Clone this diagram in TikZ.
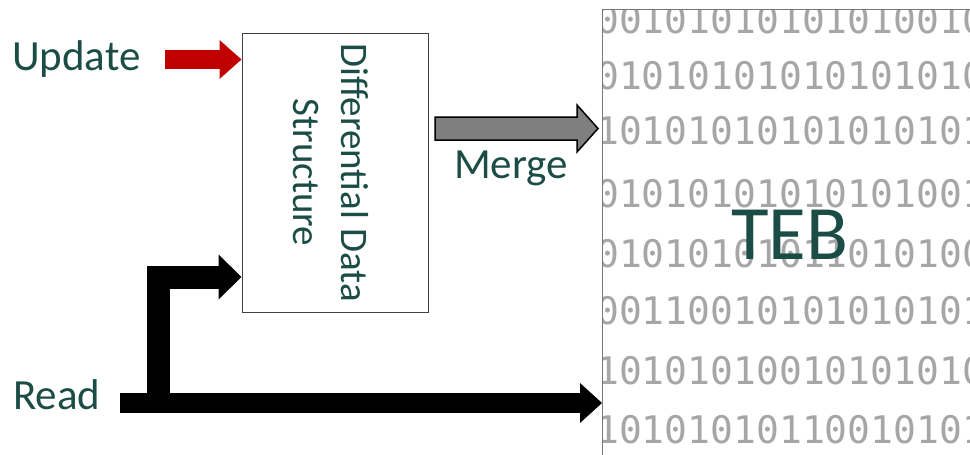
\documentclass[tikz,border=0pt]{standalone}
\usepackage{fontspec}
\setmainfont{Carlito}
\newfontfamily\bitsfont{DejaVu Sans Mono}
\usetikzlibrary{arrows.meta}

\definecolor{labelteal}{RGB}{28,76,70}
\definecolor{updred}{RGB}{192,0,0}
\definecolor{mergegray}{RGB}{127,127,127}
\definecolor{bitgray}{RGB}{166,166,166}
\definecolor{panelgray}{RGB}{120,120,120}
\definecolor{boxgray}{RGB}{64,64,64}

\begin{document}
\begin{tikzpicture}[x=1pt,y=-1pt,
    label/.style={inner sep=0pt, anchor=base west, text=labelteal, font=\fontsize{43}{50}\selectfont},
    bits/.style={inner sep=0pt, anchor=west, text=bitgray, font=\bitsfont\fontsize{38}{44}\selectfont},
    fatarrow/.style={line width=#1, line join=miter}
]
    \useasboundingbox (0,0) rectangle (970,455);

    % Draw the TEB panel with its rows of bits
    \coordinate (tebnw) at (602,9);
    \coordinate (tebse) at (970,455);
    \begin{scope}
        \clip (tebnw) rectangle (tebse);
        \foreach \bits/\y in {00101010101010010/20, 01010101010101010/76,
                              10101010101010101/131, 01010101010101001/194,
                              01010101011010100/254, 00110010101010101/311,
                              10101010010101010/371, 10101010110010101/430}
            \node[bits] at (596,\y) {\bits};
    \end{scope}
    \draw[panelgray, line width=1pt] (tebse -| tebnw) -- (tebnw) -- (tebnw -| tebse);
    \node[inner sep=0pt, anchor=base west, text=labelteal, font=\fontsize{77}{80}\selectfont] (teb) at (731,259) {TEB};

    % Draw the differential data structure box
    \node[draw=boxgray, line width=1pt, minimum width=186pt, minimum height=279pt, inner sep=0pt] (dds) at (335,172.5) {};
    \node[rotate=-90, align=center, inner sep=0pt, text=labelteal, font=\fontsize{39}{48}\selectfont] (ddstext) at (331,172.5) {Differential Data\\Structure};

    % Labels
    \node[label] (update) at (12,70) {Update};
    \node[label] (read) at (13,409) {Read};
    \node[label] (merge) at (454,178) {Merge};

    % Update arrow (red)
    \coordinate (updstart) at (165,59.5);
    \draw[fatarrow=19pt, updred, -{Triangle[length=22pt, width=39pt, line width=0pt]}] (updstart) -- (dds.west |- updstart);

    % Read arrows: straight to TEB, and a branch up into the box
    \coordinate (readstart) at (120,403);
    \coordinate (fork) at (158,403);
    \draw[fatarrow=20pt, -{Triangle[length=22pt, width=40pt, line width=0pt]}] (readstart) -- (tebnw |- readstart);
    \draw[fatarrow=23pt, -{Triangle[length=23pt, width=45pt, line width=0pt]}] (fork) |- (dds.west |- 0,277);

    % Merge arrow (gray with black outline)
    \coordinate (mergetip) at (598,128.5);
    \draw[fill=mergegray, line width=1.5pt, line join=miter] (mergetip) -- ++(-21,-23.5) -- ++(0,12) -- ++(-142,0)
        -- ++(0,23) -- ++(142,0) -- ++(0,12) -- cycle;
\end{tikzpicture}
\end{document}
